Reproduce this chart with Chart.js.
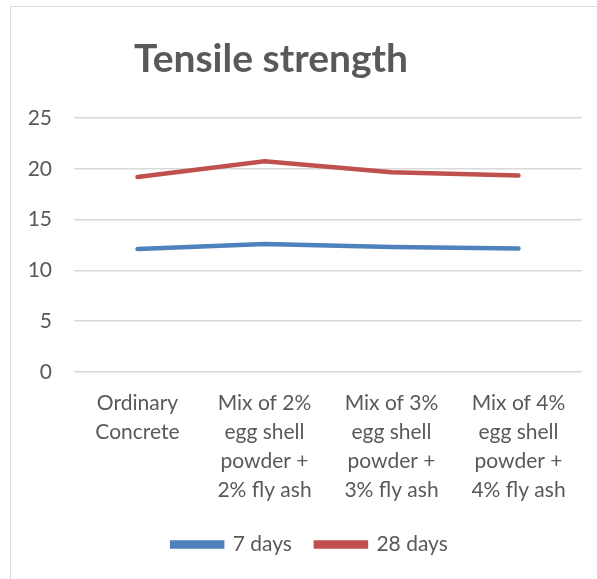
<!DOCTYPE html>
<html>
<head>
<meta charset="utf-8">
<script src="https://cdn.jsdelivr.net/npm/chart.js@4.4.1/dist/chart.umd.min.js"></script>
<style>
    body { margin: 0; background: #fff; }
    #wrap { position: relative; width: 597px; height: 579px; }
    #frame { position: absolute; left: 10px; top: 6px; right: 0; bottom: 0;
             border-left: 1px solid #d9d9d9; border-top: 1px solid #d9d9d9; }
    canvas { position: absolute; left: 0; top: 0; }
</style>
</head>
<body>
<div id="wrap">
    <div id="frame"></div>
    <canvas id="chart" width="597" height="579"></canvas>
</div>
<script>
// data
const categories = [
    ["Ordinary", "Concrete"],
    ["Mix of 2%", "egg shell", "powder +", "2% fly ash"],
    ["Mix of 3%", "egg shell", "powder +", "3% fly ash"],
    ["Mix of 4%", "egg shell", "powder +", "4% fly ash"]
];
const days7 = [12.1, 12.6, 12.3, 12.15];
const days28 = [19.2, 20.75, 19.65, 19.35];
const chartTitle = "Tensile strength";

const textGrey = "#595959";

// title drawn a bit left of centre like the original
const titlePlugin = {
    id: 'bigTitle',
    afterLayout(chart) {
        // legend sits a little right of canvas centre
        chart.legend.left += 19;
        chart.legend.right += 19;
    },
    afterDraw(chart) {
        const c = chart.ctx;
        c.save();
        c.font = "bold 39px Lato";
        c.fillStyle = textGrey;
        c.textAlign = "center";
        c.textBaseline = "alphabetic";
        c.fillText(chartTitle, 271, 72);
        c.restore();
    }
};

var ctx = document.getElementById("chart").getContext("2d");
var chart = new Chart(ctx, {
    type: "line",
    data: {
        labels: categories,
        datasets: [
            {
                label: "7 days",
                data: days7,
                borderColor: "#4f81bd",
                backgroundColor: "#4f81bd",
                borderWidth: 4.5,
                pointRadius: 0,
                borderCapStyle: "round",
            },
            {
                label: "28 days",
                data: days28,
                borderColor: "#c0504d",
                backgroundColor: "#c0504d",
                borderWidth: 4.5,
                pointRadius: 0,
                borderCapStyle: "round",
            },
        ],
    },
    options: {
        responsive: false,
        animation: false,
        layout: { padding: { top: 118, right: 15, bottom: 14, left: 0 } },
        plugins: {
            legend: {
                position: "bottom",
                labels: {
                    boxWidth: 50,
                    boxHeight: 4,
                    color: textGrey,
                    font: { family: "Lato", size: 21 },
                    padding: 24,
                },
            },
            tooltip: { enabled: false },
        },
        scales: {
            x: {
                offset: true,
                grid: { display: false },
                border: { display: false },
                ticks: {
                    color: textGrey,
                    font: { family: "Lato", size: 21, lineHeight: 1.38 },
                    maxRotation: 0,
                    autoSkip: false,
                    padding: 9,
                },
                afterFit(scale) { scale.height = 138; },
            },
            y: {
                min: 0,
                max: 25,
                ticks: {
                    stepSize: 5,
                    color: textGrey,
                    font: { family: "Lato", size: 21 },
                    padding: 22,
                },
                grid: { color: "#d9d9d9", lineWidth: 1.5, drawTicks: false },
                border: { display: false },
                afterFit(scale) { scale.width = 74; },
            },
        },
    },
    plugins: [titlePlugin],
});
</script>
</body>
</html>
